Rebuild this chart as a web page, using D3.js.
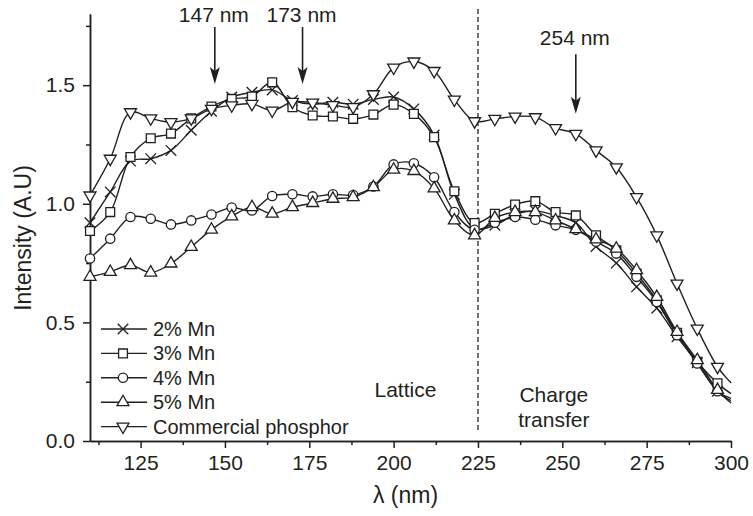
<!DOCTYPE html>
<html>
<head>
<meta charset="utf-8">
<script src="https://cdn.jsdelivr.net/npm/d3@7"></script>
<style>
	body { margin: 0; background: #fff; }
	text { font-family: "Liberation Sans", Arial, sans-serif; fill: #231f20; }
	.axis path, .axis line { stroke: #231f20; stroke-width: 1.5; }
	.axis text { font-size: 21px; }
</style>
</head>
<body>
<div id="chart"></div>
<script>
// wavelength of each measured point (nm)
var wavelength = [110, 116, 122, 128, 134, 140, 146, 152, 158, 164, 170, 176, 182, 188, 194, 200,
	206, 212, 218, 224, 230, 236, 242, 248, 254, 260, 266, 272, 278, 284, 290, 296];

var mn2 = [0.92, 1.05, 1.18, 1.19, 1.225, 1.31, 1.39, 1.45, 1.47, 1.48, 1.435, 1.42, 1.428, 1.42, 1.44, 1.45,
	1.40, 1.29, 1.04, 0.895, 0.91, 0.955, 0.97, 0.95, 0.92, 0.82, 0.75, 0.65, 0.56, 0.44, 0.33, 0.21];
var mn3 = [0.885, 0.965, 1.197, 1.276, 1.296, 1.36, 1.41, 1.442, 1.452, 1.512, 1.407, 1.372, 1.368, 1.358, 1.376, 1.418,
	1.379, 1.281, 1.053, 0.919, 0.958, 0.997, 1.011, 0.965, 0.951, 0.867, 0.804, 0.706, 0.593, 0.456, 0.334, 0.243];
var mn4 = [0.769, 0.853, 0.944, 0.937, 0.913, 0.93, 0.955, 0.984, 0.972, 1.033, 1.04, 1.031, 1.04, 1.037, 1.073, 1.166,
	1.171, 1.112, 0.965, 0.89, 0.92, 0.944, 0.933, 0.909, 0.89, 0.84, 0.79, 0.692, 0.586, 0.446, 0.327, 0.21];
var mn5 = [0.692, 0.713, 0.741, 0.71, 0.748, 0.818, 0.891, 0.947, 0.986, 0.958, 0.986, 1.003, 1.021, 1.028, 1.07, 1.144,
	1.138, 1.065, 0.93, 0.867, 0.94, 0.965, 0.965, 0.93, 0.893, 0.85, 0.811, 0.72, 0.607, 0.46, 0.341, 0.215];
var commercial = [1.035, 1.19, 1.386, 1.36, 1.344, 1.36, 1.40, 1.415, 1.421, 1.393, 1.43, 1.427, 1.416, 1.408, 1.462, 1.574,
	1.6, 1.56, 1.439, 1.348, 1.358, 1.368, 1.365, 1.319, 1.295, 1.225, 1.154, 1.028, 0.867, 0.664, 0.474, 0.313];

// where each curve meets the right edge (300 nm), no marker there
var endWavelength = 300;
var endValues = [0.17, 0.2, 0.18, 0.16, 0.245];

var seriesNames = ["2% Mn", "3% Mn", "4% Mn", "5% Mn", "Commercial phosphor"];
var seriesSymbols = ["times", "square", "circle", "triangle", "triangleDown"];

var xTicks = [125, 150, 175, 200, 225, 250, 275, 300];
var xMinorTicks = [112.5, 137.5, 162.5, 187.5, 212.5, 237.5, 262.5, 287.5];
var yTicks = [0, 0.5, 1.0, 1.5];
var yMinorTicks = [0.25, 0.75, 1.25, 1.75];

var arrowNm = [147, 173, 254];
var arrowLabels = ["147 nm", "173 nm", "254 nm"];
var boundaryNm = 225;

var svgWidth = 753;
var svgHeight = 516;
var margin = { top: 14, right: 22, bottom: 75, left: 90 };
var width = svgWidth - margin.left - margin.right;
var height = svgHeight - margin.top - margin.bottom;

var svg = d3.select("#chart")
	.append("svg")
	.attr("width", svgWidth)
	.attr("height", svgHeight);

var chartGroup = svg.append("g")
	.attr("transform", `translate(${margin.left}, ${margin.top})`);

var xLinearScale = d3.scaleLinear().domain([110, 300]).range([0, width]);
var yLinearScale = d3.scaleLinear().domain([0, 1.8]).range([height, 0]);

// minor ticks first, major axis over them
chartGroup.append("g")
	.attr("class", "axis")
	.attr("transform", `translate(0, ${height})`)
	.call(d3.axisBottom(xLinearScale).tickValues(xMinorTicks).tickSize(4).tickSizeOuter(0).tickFormat(""));
chartGroup.append("g")
	.attr("class", "axis")
	.call(d3.axisLeft(yLinearScale).tickValues(yMinorTicks).tickSize(4).tickSizeOuter(0).tickFormat(""));

chartGroup.append("g")
	.attr("class", "axis")
	.attr("transform", `translate(0, ${height})`)
	.call(d3.axisBottom(xLinearScale).tickValues(xTicks).tickSize(7).tickPadding(7).tickSizeOuter(0));
chartGroup.append("g")
	.attr("class", "axis")
	.call(d3.axisLeft(yLinearScale).tickValues(yTicks).tickSize(7).tickPadding(8).tickSizeOuter(0)
		.tickFormat(d3.format(".1f")));

// axis titles
chartGroup.append("text")
	.attr("transform", `translate(${31 - margin.left}, ${238 - margin.top}) rotate(-90)`)
	.attr("text-anchor", "middle")
	.style("font-size", "23px")
	.text("Intensity (A.U)");

chartGroup.append("text")
	.attr("x", width / 2 - 5)
	.attr("y", height + 62)
	.attr("text-anchor", "middle")
	.style("font-size", "23px")
	.text("λ (nm)");

// dashed boundary between lattice and charge transfer regions
chartGroup.append("line")
	.attr("x1", xLinearScale(boundaryNm))
	.attr("x2", xLinearScale(boundaryNm))
	.attr("y1", -5)
	.attr("y2", height - 9)
	.attr("stroke", "#231f20")
	.attr("stroke-width", 1.3)
	.attr("stroke-dasharray", "5,3");

chartGroup.append("text")
	.attr("x", xLinearScale(203.5))
	.attr("y", height - 44)
	.attr("text-anchor", "middle")
	.style("font-size", "21px")
	.text("Lattice");
chartGroup.append("text")
	.attr("x", xLinearScale(247.5))
	.attr("y", height - 39)
	.attr("text-anchor", "middle")
	.style("font-size", "21px")
	.text("Charge");
chartGroup.append("text")
	.attr("x", xLinearScale(247.5))
	.attr("y", height - 14)
	.attr("text-anchor", "middle")
	.style("font-size", "21px")
	.text("transfer");

// symbols
function symbolPath(kind) {
	if (kind === "times") return d3.symbol().type(d3.symbolTimes).size(75)();
	if (kind === "square") return d3.symbol().type(d3.symbolSquare).size(78)();
	if (kind === "circle") return d3.symbol().type(d3.symbolCircle).size(68)();
	return d3.symbol().type(d3.symbolTriangle).size(62)();
}

var seriesValues = [mn2, mn3, mn4, mn5, commercial];

var line = d3.line()
	.x(d => xLinearScale(d[0]))
	.y(d => yLinearScale(d[1]))
	.curve(d3.curveCatmullRom.alpha(0.5));

seriesValues.forEach(function(values, i) {
	var pts = wavelength.map((w, j) => [w, values[j]]);
	pts.push([endWavelength, endValues[i]]);

	chartGroup.append("path")
		.datum(pts)
		.attr("fill", "none")
		.attr("stroke", "#231f20")
		.attr("stroke-width", 1.4)
		.attr("d", line);
});

seriesValues.forEach(function(values, i) {
	var kind = seriesSymbols[i];
	chartGroup.append("g")
		.selectAll("path")
		.data(wavelength.map((w, j) => [w, values[j]]))
		.enter()
		.append("path")
		.attr("transform", d => `translate(${xLinearScale(d[0])}, ${yLinearScale(d[1])})` +
			(kind === "triangleDown" ? " rotate(180)" : ""))
		.attr("d", symbolPath(kind))
		.attr("fill", kind === "times" ? "none" : "#fff")
		.attr("stroke", "#231f20")
		.attr("stroke-width", 1.3);
});

// legend
var legend = chartGroup.append("g")
	.attr("transform", `translate(${101 - margin.left}, ${329 - margin.top})`);

seriesNames.forEach(function(name, i) {
	var row = legend.append("g").attr("transform", `translate(0, ${i * 24.4})`);
	row.append("line")
		.attr("x1", 0).attr("x2", 46)
		.attr("stroke", "#231f20").attr("stroke-width", 1.4);
	row.append("path")
		.attr("transform", "translate(22, 0)" + (seriesSymbols[i] === "triangleDown" ? " rotate(180)" : ""))
		.attr("d", symbolPath(seriesSymbols[i]))
		.attr("fill", seriesSymbols[i] === "times" ? "none" : "#fff")
		.attr("stroke", "#231f20")
		.attr("stroke-width", 1.3);
	row.append("text")
		.attr("x", 52)
		.attr("y", 7)
		.style("font-size", "20px")
		.text(name);
});

// arrows marking excitation wavelengths
var arrowTop = [1.745, 1.745, 1.63];
var arrowTip = [1.505, 1.505, 1.38];
var labelY = [1.768, 1.768, 1.67];

arrowNm.forEach(function(nm, i) {
	var x = xLinearScale(nm);
	var y0 = yLinearScale(arrowTop[i]);
	var y1 = yLinearScale(arrowTip[i]);
	chartGroup.append("line")
		.attr("x1", x).attr("x2", x)
		.attr("y1", y0).attr("y2", y1 - 10)
		.attr("stroke", "#231f20").attr("stroke-width", 1.6);
	chartGroup.append("path")
		.attr("d", `M${x},${y1} L${x - 5},${y1 - 17} L${x},${y1 - 13} L${x + 5},${y1 - 17} Z`)
		.attr("fill", "#231f20");
	chartGroup.append("text")
		.attr("x", x - 1)
		.attr("y", yLinearScale(labelY[i]))
		.attr("text-anchor", "middle")
		.style("font-size", "21px")
		.text(arrowLabels[i]);
});
</script>
</body>
</html>
